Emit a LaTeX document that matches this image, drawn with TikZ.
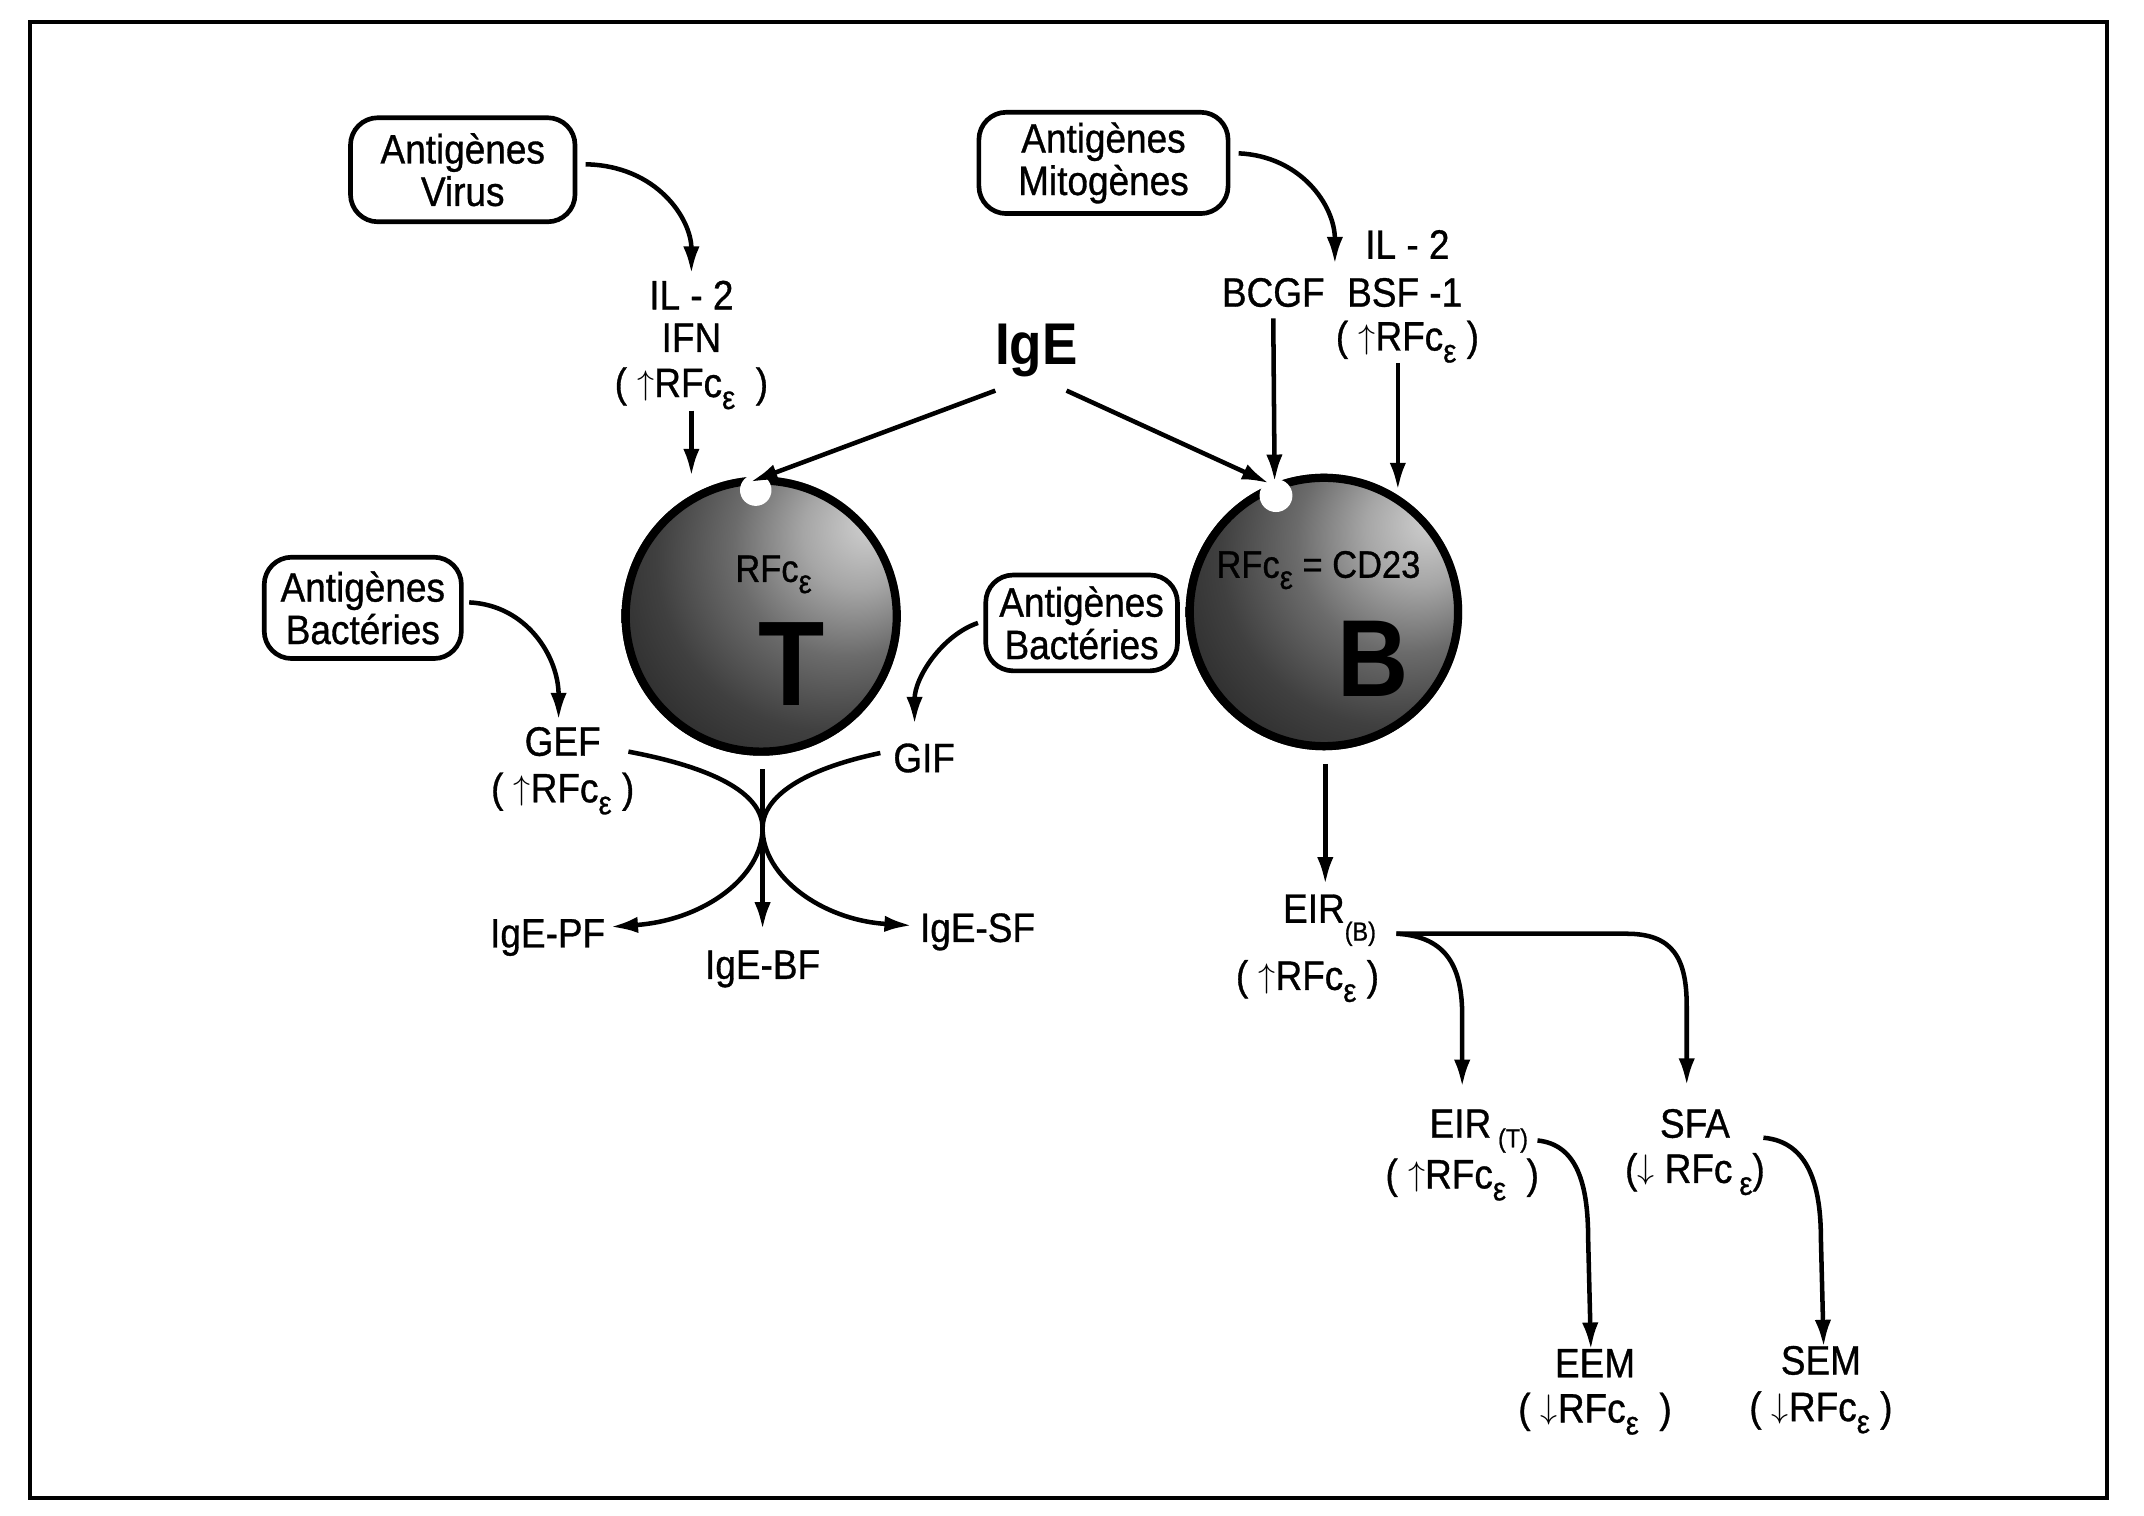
\documentclass[tikz,border=0pt]{standalone}
\usepackage{fontspec}
\setmainfont{Liberation Sans}[FakeStretch=0.9,FakeBold=0.8]
\newfontfamily\boldfam{Liberation Sans Bold}[FakeStretch=0.9]
\usetikzlibrary{arrows.meta}
\newcommand{\epsE}{\raisebox{-0.55ex}{\fontsize{24}{24}\selectfont ε}}
\newcommand{\rfcE}{RFc\epsE}
\newcommand{\subtxt}[2]{\raisebox{-#1pt}{\fontsize{19}{19}\selectfont #2}}
\newcommand{\upA}{\raisebox{0.06em}{$\uparrow$}}
\newcommand{\dnA}{\raisebox{0.1em}{$\downarrow$}}
\pgfdeclareradialshading{cellball}{\pgfpoint{20bp}{17bp}}{%
  color(0bp)=(black!18); color(10bp)=(black!35); color(20bp)=(black!58);
  color(31bp)=(black!75); color(45bp)=(black!87); color(62bp)=(black!95); color(80bp)=(black)}
\begin{document}
\begin{tikzpicture}[x=1pt,y=-1pt,
  lbl/.style={font=\fontsize{30}{32}\selectfont, inner sep=0pt, anchor=base},
  agbox/.style={draw, line width=3.4pt, rounded corners=20pt,
     font=\fontsize{30}{31}\selectfont, align=center, inner sep=0pt},
  arr/.style={line width=3.3pt, -{Latex[length=20pt,width=12pt]}},
  bigl/.style={font=\boldfam\fontsize{88}{88}\selectfont, inner sep=0pt, anchor=base}]

\useasboundingbox (0,0) rectangle (1566,1107);
\draw[line width=2.8pt] (22,16) rectangle (1539,1094);

% ---------- cells ----------
\shade[shading=cellball] (556,450) circle (102pt);
\draw[line width=6pt] (556,450) circle (99pt);
\fill[white] (552,358) circle (11.5pt);
\node[circle, minimum size=204pt, inner sep=0pt] (cellT) at (556,450) {};

\shade[shading=cellball] (967,447) circle (101pt);
\draw[line width=6pt] (967,447) circle (98pt);
\fill[white] (932,362) circle (12pt);
\node[circle, minimum size=202pt, inner sep=0pt] (cellB) at (967,447) {};

\node[lbl, font=\fontsize{28}{28}\selectfont] (rfcT) at (565,425) {\rfcE};
\node[bigl] (letT) at (578,515) {T};
\node[lbl, font=\fontsize{28}{28}\selectfont] (rfcB) at (963,422) {\rfcE\ = CD23};
\node[bigl, font=\boldfam\fontsize{80}{80}\selectfont] (letB) at (1003,509) {B};

% ---------- antigen boxes ----------
\node[agbox, minimum width=164pt, minimum height=76pt] (agvir) at (338,124) {Antigènes\\Virus};
\node[agbox, minimum width=182pt, minimum height=74pt] (agmit) at (806,119) {Antigènes\\Mitogènes};
\node[agbox, minimum width=144pt, minimum height=74pt] (agbacL) at (265,444) {Antigènes\\Bactéries};
\node[agbox, minimum width=140pt, minimum height=70pt] (agbacR) at (790,455) {Antigènes\\Bactéries};

% ---------- labels ----------
\node[lbl] (il2a) at (505,226) {IL - 2};
\node[lbl] (ifn) at (505,257) {IFN};
\node[lbl] (rfc1) at (505,290) {( \upA\rfcE\ \ )};

\node[lbl, font=\boldfam\fontsize{43}{43}\selectfont] (ige) at (757,266) {IgE};

\node[lbl] (il2b) at (1028,189) {IL - 2};
\node[lbl] (bcgf) at (930,224) {BCGF};
\node[lbl] (bsf) at (1026,224) {BSF -1};
\node[lbl] (rfc2) at (1028,256) {( \upA\rfcE\ )};

\node[lbl] (gef) at (411,552) {GEF};
\node[lbl] (rfc3) at (411,586) {( \upA\rfcE\ )};
\node[lbl] (gif) at (675,564) {GIF};

\node[lbl] (igepf) at (400,692) {IgE-PF};
\node[lbl] (igebf) at (557,715) {IgE-BF};
\node[lbl] (igesf) at (714,688) {IgE-SF};

\node[lbl, anchor=base west] (eirb) at (937,674) {EIR\subtxt{13}{(B)}};
\node[lbl] (rfc4) at (955,723) {( \upA\rfcE\ )};

\node[lbl, anchor=base west] (eirt) at (1044,831) {EIR\,\subtxt{7}{(T)}};
\node[lbl] (rfc5) at (1068,868) {( \upA\rfcE\ \ )};

\node[lbl] (sfa) at (1238,831) {SFA};
\node[lbl] (rfc6) at (1238,864) {(\dnA\ RFc\,\epsE)};

\node[lbl] (eem) at (1165,1006) {EEM};
\node[lbl] (rfc7) at (1165,1039) {( \dnA\rfcE\ \ )};

\node[lbl] (sem) at (1330,1004) {SEM};
\node[lbl] (rfc8) at (1330,1038) {( \dnA\rfcE\ )};

% ---------- connector end points ----------
\coordinate (notchT) at (548,352);
\coordinate (notchB) at (927,353);
\coordinate (gefS) at (459,549);
\coordinate (gifS) at (643,550);
\coordinate (kiss) at (557,605);
\coordinate (eirS) at (1020,682);

% ---------- connectors ----------
\draw[arr] ([xshift=6pt,yshift=4pt]agvir.east) .. controls (480,121) and (505,160) .. (505,200);
\draw[arr] (505,300) -- (cellT.north -| 505,0) ;
\draw[arr] ([xshift=-30pt,yshift=-10pt]ige.south) -- (notchT);
\draw[arr] ([xshift=22pt,yshift=-10pt]ige.south) -- (notchB);

\draw[arr] ([xshift=6pt,yshift=7pt]agmit.east) .. controls (950,114) and (975,150) .. (975,193);
\draw[arr] ([yshift=-8pt]bcgf.south) -- (931,352);
\draw[arr] (1021,265) -- (1021,358);

\draw[arr] ([xshift=4pt,yshift=4pt]agbacL.east) .. controls (385,442) and (408,480) .. (408,526);
\draw[arr] ([xshift=-4pt]agbacR.west) .. controls (688,464) and (668,495) .. (668,529);

\draw[arr] (gefS) .. controls (528,562) and (557,582) .. (kiss) .. controls (557,640) and (515,672) .. (446,677);
\draw[arr] (gifS) .. controls (586,562) and (557,582) .. (kiss) .. controls (557,640) and (600,672) .. (666,676);
\draw[arr] (557,562) -- (557,679);

\draw[arr] (968,558) -- (968,646);
\draw[arr] (eirS) -- (1188,682) .. controls (1222,682) and (1232,700) .. (1232,735) -- (1232,793);
\draw[arr] (eirS) .. controls (1058,684) and (1068,708) .. (1068,742) -- (1068,794);

\draw[arr] (1123,833) .. controls (1152,836) and (1160,865) .. (1160,905) -- (1162,986);
\draw[arr] (1288,831) .. controls (1322,834) and (1330,868) .. (1330,905) -- (1332,984);
\end{tikzpicture}
\end{document}
